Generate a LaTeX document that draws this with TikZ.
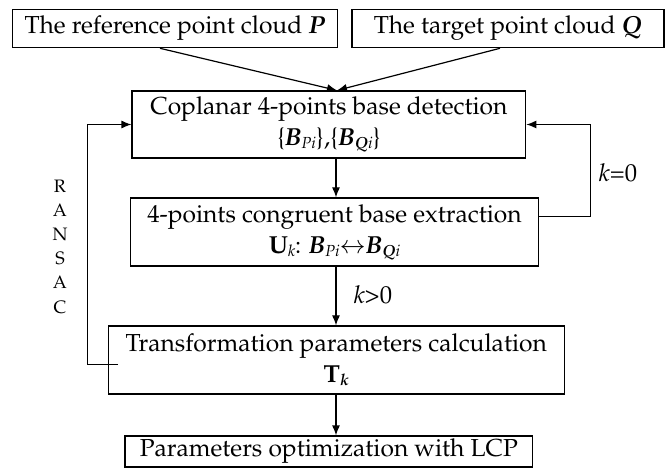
\documentclass[tikz,border=0pt]{standalone}
\usepackage[T1]{fontenc}
\usepackage{mathpazo}
\usetikzlibrary{arrows.meta}
\newcommand\bodyfont{\fontsize{24.6}{31}\selectfont}
\newcommand\subt[1]{\raisebox{-0.12em}{\fontsize{16}{16}\selectfont\itshape #1}}
\newcommand\bbi[1]{\textbf{\textit{#1}}}
\begin{document}
\begin{tikzpicture}[x=1pt,y=-1pt,
  box/.style={draw, line width=1.2pt, inner sep=0pt, align=center, font=\bodyfont},
  conn/.style={line width=1.2pt, -{Latex[length=10pt,width=8pt]}},
  plain/.style={line width=1.2pt},
  lbl/.style={font=\bodyfont, inner sep=0pt}]
\useasboundingbox (0,0) rectangle (665,468);
% boxes
\node[box, minimum width=325pt, minimum height=38.4pt] (P) at (174.8,28.5) {The reference point cloud \bbi{P}};
\node[box, minimum width=312pt, minimum height=38.4pt] (Q) at (508,28.5) {The target point cloud \bbi{Q}};
\node[box, minimum width=393.7pt, minimum height=67pt] (cop) at (328.9,124.5)
  {Coplanar 4-points base detection\\\{\bbi{B}\subt{Pi}\},\{\bbi{B}\subt{\bfseries Q\mdseries i}\}};
\node[box, minimum width=407.6pt, minimum height=68pt] (ext) at (334.5,232)
  {4-points congruent base extraction\\\textbf{U}\subt{k}: \bbi{B}\subt{Pi}$\leftrightarrow$\bbi{B}\subt{\bfseries Q\mdseries i}};
\node[box, minimum width=456pt, minimum height=68pt] (tr) at (336.3,360)
  {Transformation parameters calculation\\\textbf{T}\subt{\bfseries k}};
\node[box, minimum width=407.7pt, minimum height=31pt] (lcp) at (328.9,451.5) {Parameters optimization with LCP};
% helper coordinates
\coordinate (pa) at (160,0);
\coordinate (qa) at (500,0);
\coordinate (ta) at (337,0);
\coordinate (vx) at (336,0);
\coordinate (ey) at (0,216.7);
\coordinate (rx) at (590.7,0);
\coordinate (ls) at (118,364.3);
\coordinate (lx) at (87.5,0);
% connectors
\draw[conn] (P.south -| pa) -- (cop.north -| ta);
\draw[conn] (Q.south -| qa) -- (cop.north -| ta);
\draw[conn] (cop.south -| vx) -- (ext.north -| vx);
\draw[conn] (ext.south -| vx) -- (tr.north -| vx);
\draw[conn] (tr.south -| vx) -- (lcp.north -| vx);
\draw[conn] (ext.east |- ey) -- (rx |- ey) -- (rx |- cop.east) -- (cop.east);
\draw[conn] (ls) -- (lx |- ls) -- (lx |- cop.west) -- (cop.west);
% labels
\node[lbl] (k0) at (618,173) {\textit{k}=0};
\node[lbl] (kg) at (373,295) {\textit{k}>0};
\node[align=center, inner sep=0pt, font=\fontsize{18}{24.2}\selectfont] (ransac) at (60,246.5) {R\\A\\N\\S\\A\\C};
\end{tikzpicture}
\end{document}
